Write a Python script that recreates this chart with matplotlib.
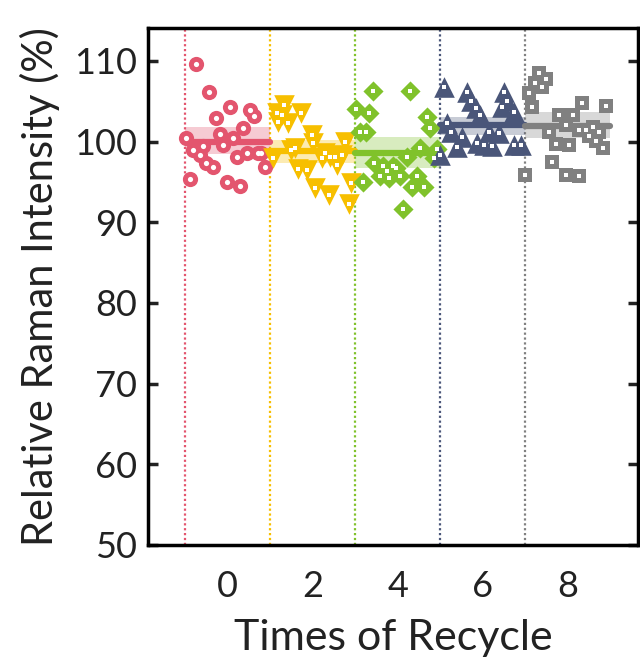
import matplotlib
matplotlib.use("Agg")
import matplotlib.pyplot as plt

plt.rcParams['font.family'] = ['Lato', 'DejaVu Sans']

# recycle groups
cycles = [0, 2, 4, 6, 8]
colors = ['#E3556E', '#F7BF00', '#80C22B', '#4A5679', '#808080']
markers = ['o', 'v', 'D', '^', 's']

# scattered points (x jitter, intensity %)
x0 = [-0.74, -0.44, 0.05, -0.27, 0.52, 0.62, 0.36, -0.19, -0.99, 0.13, -0.11, -0.82,
      -0.58, -0.66, -0.52, -0.35, 0.21, 0.46, 0.71, 0.77, 0.87, -0.90, -0.02, 0.28]
y0 = [109.6, 106.2, 104.3, 102.9, 103.9, 103.2, 101.7, 100.9, 100.4, 100.4, 99.6, 99.0,
      99.4, 98.3, 97.3, 96.8, 98.1, 98.6, 98.6, 98.6, 96.9, 95.3, 95.0, 94.5]
x2 = [1.33, 1.15, 1.27, 1.72, 1.17, 1.41, 1.97, 2.01, 2.76, 1.58, 1.49, 1.07,
      2.29, 2.21, 2.41, 2.52, 2.68, 2.56, 1.66, 1.86, 2.04, 2.39, 2.90, 2.84]
y2 = [104.5, 103.5, 103.3, 103.5, 102.4, 102.3, 100.8, 99.8, 100.0, 99.2, 99.0, 97.9,
      98.6, 97.9, 98.1, 98.1, 98.3, 97.1, 96.6, 96.5, 94.3, 93.4, 94.8, 92.2]
x4 = [3.41, 4.28, 3.02, 3.33, 4.69, 4.76, 3.10, 3.25, 4.53, 4.21, 4.84, 3.44,
      3.66, 3.88, 3.96, 3.57, 3.80, 4.06, 3.74, 4.45, 4.33, 4.61, 3.18, 4.12, 4.92]
y4 = [106.3, 106.3, 104.0, 103.5, 103.1, 101.7, 101.2, 101.2, 99.2, 98.1, 97.9, 97.4,
      97.0, 97.0, 96.7, 95.7, 95.5, 95.7, 96.3, 95.7, 94.4, 94.4, 95.0, 91.6, 99.1]
x6 = [5.08, 5.63, 6.49, 5.71, 6.57, 5.83, 6.46, 5.94, 6.73, 5.16, 5.24, 6.14,
      6.37, 5.51, 5.86, 6.02, 6.22, 5.39, 6.73, 6.89, 5.00]
y6 = [106.8, 106.2, 106.2, 105.0, 105.0, 104.1, 104.3, 103.3, 103.7, 102.3, 101.2, 101.2,
      101.0, 100.6, 99.8, 99.6, 99.4, 99.3, 99.6, 99.6, 98.3]
x8 = [7.32, 7.49, 7.22, 7.38, 7.08, 7.16, 8.34, 8.89, 7.79, 8.12, 7.95, 8.26, 8.58,
      8.42, 7.55, 8.73, 8.50, 8.66, 7.71, 8.03, 8.83, 7.63, 7.00, 7.95, 8.26]
y8 = [108.5, 107.7, 107.2, 106.7, 106.0, 104.3, 104.8, 104.4, 103.3, 103.3, 102.1, 101.4,
      101.8, 101.4, 101.2, 101.2, 100.7, 100.1, 99.7, 99.6, 99.2, 97.5, 95.9, 95.9, 95.7]

# group mean and band limits
means = [100.0, 98.8, 98.6, 102.1, 101.9]
band_lo = [98.4, 97.4, 96.7, 100.8, 100.4]
band_hi = [101.8, 100.2, 100.5, 103.1, 103.7]

xs = [x0, x2, x4, x6, x8]
ys = [y0, y2, y4, y6, y8]

fig = plt.figure(figsize=(6.4, 6.62), dpi=100)
ax = fig.add_axes([0.231, 0.177, 0.766, 0.781])

ylo, yhi = 50, 114.1
sizes = {'o': 120, 'v': 220, '^': 220, 'D': 105, 's': 110}
for i, c in enumerate(cycles):
    col = colors[i]
    ax.plot([c - 1, c - 1], [ylo, yhi], color=col, linestyle=(0, (1, 1.2)), lw=1.6, zorder=1)
    ax.fill_between([c - 1, c + 1], band_lo[i], band_hi[i], color=col, alpha=0.3, lw=0, zorder=2)
    ax.plot([c - 1, c + 1], [means[i], means[i]], color=col, lw=4.5, solid_capstyle='round', zorder=3)
    m = markers[i]
    ax.scatter(xs[i], ys[i], s=sizes[m], color=col, marker=m, linewidth=0, zorder=4)
    if m == 'o':
        ax.scatter(xs[i], ys[i], s=14, color='white', marker='o', linewidth=0, zorder=5)
    else:
        ax.scatter(xs[i], ys[i], s=7, color='white', marker='s', linewidth=0, zorder=5)

ax.set_xlim(-1.88, 9.65)
ax.set_ylim(ylo, yhi)
ax.set_xticks(cycles)
ax.set_yticks([50, 60, 70, 80, 90, 100, 110])
ax.tick_params(axis='x', length=0, labelsize=26, pad=18, colors='#222222')
ax.tick_params(axis='y', direction='in', length=7, width=2.5, labelsize=26, left=True, right=True,
               colors='#222222', labelcolor='#222222', pad=8)
for s in ax.spines.values():
    s.set_linewidth(2.5)
    s.set_color('black')
ax.set_xlabel('Times of Recycle', fontsize=31, color='#222222', labelpad=12)
ax.set_ylabel('Relative Raman Intensity (%)', fontsize=30, color='#222222', labelpad=10)

fig.savefig('out.png', dpi=100)
